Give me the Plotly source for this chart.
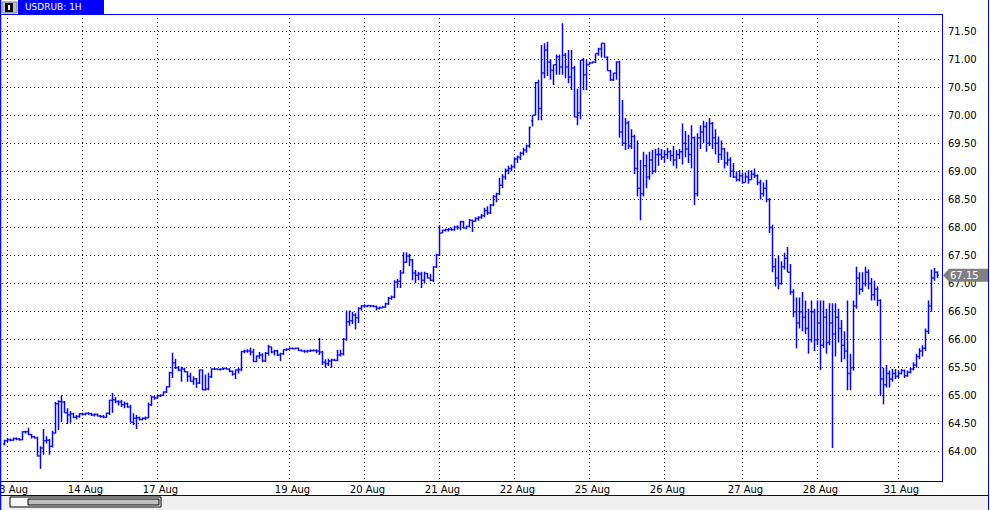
import plotly.graph_objects as go

# ---------------- data (USDRUB, 1H bars) ----------------
OPEN = [
    64.14,64.20,64.22,64.21,64.24,64.23,64.22,64.36,64.36,64.31,
    64.27,64.25,63.93,64.07,64.20,64.21,64.10,64.34,64.86,64.90,
    64.89,64.70,64.66,64.68,64.62,64.63,64.68,64.67,64.69,64.68,
    64.66,64.67,64.64,64.63,64.62,64.69,64.92,64.93,64.90,64.89,
    64.84,64.86,64.80,64.53,64.60,64.61,64.58,64.60,64.61,64.84,
    64.98,64.96,65.00,65.01,65.07,65.16,65.41,65.59,65.50,65.46,
    65.48,65.43,65.35,65.26,65.30,65.23,65.46,65.11,65.12,65.34,
    65.48,65.48,65.47,65.48,65.49,65.48,65.44,65.39,65.46,65.47,
    65.79,65.80,65.80,65.78,65.61,65.71,65.73,65.62,65.76,65.87,
    65.78,65.80,65.73,65.75,65.82,65.83,65.85,65.84,65.85,65.81,
    65.80,65.79,65.80,65.81,65.81,65.80,65.78,65.60,65.57,65.62,
    65.64,65.63,65.73,65.75,66.01,66.32,66.34,66.44,66.39,66.56,
    66.60,66.60,66.61,66.60,66.59,66.56,66.57,66.58,66.64,66.74,
    66.76,67.03,67.04,67.19,67.38,67.49,67.42,67.19,67.15,67.17,
    67.06,67.18,67.10,67.06,67.30,67.51,67.90,67.95,67.96,67.97,
    67.96,68.01,68.00,68.10,67.99,68.02,68.13,68.11,68.16,68.18,
    68.21,68.30,68.26,68.40,68.55,68.60,68.75,68.90,69.02,69.05,
    69.08,69.22,69.25,69.32,69.38,69.45,69.90,70.00,70.58,70.12,
    70.75,71.16,70.95,70.80,70.90,71.04,70.86,71.07,70.86,70.68,
    70.84,69.97,70.04,70.98,70.72,70.90,70.93,70.95,71.10,71.18,
    71.28,71.03,70.79,70.63,70.75,70.95,69.70,69.50,69.86,69.45,
    69.62,69.05,68.70,68.60,69.10,68.90,69.20,69.00,69.30,69.30,
    69.25,69.30,69.35,69.28,69.20,69.30,69.35,69.50,69.40,69.30,
    69.60,68.60,69.60,69.70,69.80,69.50,69.85,69.60,69.50,69.30,
    69.40,69.15,69.20,69.00,68.90,68.85,68.92,68.80,68.90,68.85,
    68.95,68.92,68.80,68.60,68.70,68.50,68.00,67.30,67.10,67.00,
    67.30,67.45,67.20,66.85,66.50,66.30,66.50,66.40,66.20,66.00,
    66.50,66.00,66.30,65.90,66.40,65.95,66.30,66.10,66.40,66.20,
    65.90,65.80,65.40,65.50,66.60,67.10,66.90,67.00,67.20,67.00,
    66.80,66.90,66.70,65.30,65.20,65.40,65.30,65.40,65.35,65.40,
    65.45,65.36,65.42,65.48,65.55,65.70,65.80,65.85,66.15,66.60,67.10,67.20,
]
HIGH = [
    64.22,64.25,64.24,64.26,64.26,64.25,64.37,64.38,64.43,64.32,
    64.29,64.27,64.10,64.41,64.28,64.23,64.38,64.89,64.92,65.01,
    64.91,64.78,64.73,64.70,64.66,64.69,64.70,64.70,64.71,64.70,
    64.69,64.68,64.66,64.66,64.70,64.93,65.05,64.98,64.92,64.93,
    64.90,64.88,64.84,64.69,64.66,64.63,64.62,64.63,64.88,65.00,
    65.00,65.02,65.03,65.08,65.17,65.43,65.77,65.66,65.53,65.52,
    65.50,65.44,65.41,65.35,65.32,65.47,65.47,65.38,65.41,65.49,
    65.50,65.49,65.49,65.50,65.50,65.49,65.45,65.47,65.50,65.80,
    65.82,65.83,65.86,65.84,65.72,65.78,65.76,65.78,65.91,65.88,
    65.82,65.82,65.77,65.83,65.85,65.86,65.86,65.86,65.86,65.83,
    65.82,65.82,65.83,65.83,65.83,66.03,65.80,65.65,65.66,65.66,
    65.66,65.82,65.82,66.03,66.52,66.52,66.50,66.47,66.58,66.62,
    66.63,66.62,66.62,66.62,66.61,66.59,66.60,66.66,66.76,66.79,
    67.06,67.08,67.24,67.56,67.56,67.53,67.44,67.24,67.21,67.21,
    67.21,67.19,67.17,67.31,67.53,68.04,67.96,67.98,67.99,68.00,
    68.03,68.04,68.12,68.12,68.03,68.15,68.14,68.18,68.20,68.24,
    68.35,68.38,68.42,68.58,68.62,68.88,68.95,69.05,69.10,69.12,
    69.25,69.28,69.35,69.42,69.48,69.80,70.00,70.59,70.63,71.25,
    71.28,71.31,71.00,70.90,71.08,71.08,71.64,71.11,71.16,71.16,
    70.88,70.47,70.98,71.02,70.98,70.94,70.96,71.10,71.20,71.28,
    71.28,71.05,70.81,70.75,70.96,70.97,70.27,69.95,69.90,69.75,
    69.65,69.55,69.20,69.35,69.30,69.35,69.38,69.40,69.42,69.40,
    69.38,69.42,69.38,69.45,69.38,69.40,69.85,69.72,69.65,69.82,
    69.62,69.68,69.82,69.90,69.88,69.95,69.88,69.75,69.62,69.55,
    69.42,69.35,69.25,69.15,69.00,69.02,68.98,68.98,69.02,69.02,
    69.05,68.95,68.85,68.80,68.85,68.52,68.05,67.45,67.50,67.40,
    67.55,67.65,67.35,66.90,66.75,66.75,66.85,66.70,66.55,66.70,
    66.55,66.70,66.70,66.70,66.55,66.65,66.65,66.65,66.55,66.35,
    66.15,66.70,65.75,66.70,67.30,67.20,67.20,67.30,67.25,67.10,
    67.05,66.95,66.72,65.50,65.55,65.45,65.48,65.48,65.45,65.48,
    65.47,65.45,65.50,65.60,65.75,65.85,65.90,66.20,66.70,67.25,67.28,67.22,
]
LOW = [
    64.12,64.18,64.19,64.20,64.21,64.20,64.21,64.33,64.30,64.24,
    64.24,63.92,63.70,63.95,64.15,63.95,64.08,64.33,64.39,64.53,
    64.70,64.50,64.52,64.60,64.58,64.61,64.65,64.65,64.66,64.64,
    64.63,64.63,64.61,64.60,64.61,64.66,64.70,64.87,64.83,64.80,
    64.78,64.79,64.53,64.48,64.41,64.56,64.56,64.57,64.60,64.82,
    64.93,64.95,64.98,65.00,65.05,65.15,65.32,65.48,65.44,65.25,
    65.42,65.25,65.25,65.20,65.14,65.21,65.10,65.09,65.10,65.32,
    65.46,65.46,65.45,65.46,65.47,65.42,65.36,65.30,65.40,65.44,
    65.76,65.77,65.72,65.60,65.60,65.66,65.60,65.60,65.72,65.76,
    65.72,65.71,65.62,65.73,65.80,65.82,65.83,65.83,65.80,65.79,
    65.77,65.77,65.78,65.79,65.76,65.73,65.55,65.50,65.53,65.50,
    65.62,65.62,65.70,65.72,65.98,66.25,66.28,66.18,66.30,66.52,
    66.57,66.58,66.58,66.58,66.52,66.54,66.56,66.57,66.62,66.71,
    66.74,66.92,66.92,67.18,67.37,67.31,67.06,67.01,67.06,66.92,
    67.00,67.09,67.04,67.03,67.28,67.49,67.90,67.93,67.93,67.94,
    67.94,67.96,67.95,67.98,67.97,68.00,67.92,68.10,68.12,68.15,
    68.18,68.22,68.24,68.38,68.45,68.58,68.70,68.85,68.95,69.00,
    69.05,69.15,69.20,69.28,69.33,69.42,69.80,70.00,69.91,69.91,
    70.66,70.70,70.63,70.54,70.72,70.72,70.72,70.66,70.57,70.45,
    69.97,69.82,69.93,70.45,70.45,70.90,70.92,70.93,71.06,71.03,
    71.03,70.79,70.61,70.61,70.63,69.60,69.45,69.38,69.40,69.40,
    68.95,68.55,68.13,68.55,68.70,68.85,68.95,68.98,69.10,69.20,
    69.15,69.22,69.18,69.10,69.05,69.22,69.12,69.25,69.15,69.05,
    68.40,68.55,69.40,69.50,69.35,69.45,69.40,69.30,69.15,69.20,
    69.05,69.10,68.90,68.88,68.82,68.82,68.78,68.80,68.78,68.85,
    68.88,68.75,68.50,68.55,68.45,67.90,67.20,66.95,66.90,66.98,
    67.25,67.20,66.80,66.40,65.85,66.20,66.15,66.10,65.75,65.95,
    65.80,65.90,65.46,65.85,65.75,65.90,64.07,65.70,65.95,65.60,
    65.65,65.10,65.10,65.45,66.55,66.80,66.85,66.95,66.90,66.70,
    66.70,66.60,65.00,64.85,65.15,65.15,65.25,65.30,65.32,65.38,
    65.32,65.34,65.40,65.45,65.50,65.65,65.70,65.80,66.10,66.50,67.05,67.10,
]
CLOSE = [
    64.20,64.22,64.21,64.24,64.23,64.22,64.36,64.36,64.31,64.27,
    64.25,63.93,64.07,64.20,64.21,64.10,64.34,64.86,64.90,64.89,
    64.70,64.66,64.68,64.62,64.63,64.68,64.67,64.69,64.68,64.66,
    64.67,64.64,64.63,64.62,64.69,64.92,64.93,64.90,64.89,64.84,
    64.86,64.80,64.53,64.60,64.61,64.58,64.60,64.61,64.84,64.98,
    64.96,65.00,65.01,65.07,65.16,65.41,65.59,65.50,65.46,65.48,
    65.43,65.35,65.26,65.30,65.23,65.46,65.11,65.12,65.34,65.48,
    65.48,65.47,65.48,65.49,65.48,65.44,65.39,65.46,65.47,65.79,
    65.80,65.80,65.78,65.61,65.71,65.73,65.62,65.76,65.87,65.78,
    65.80,65.73,65.75,65.82,65.83,65.85,65.84,65.85,65.81,65.80,
    65.79,65.80,65.81,65.81,65.80,65.78,65.60,65.57,65.62,65.64,
    65.63,65.73,65.75,66.01,66.32,66.34,66.44,66.39,66.56,66.60,
    66.60,66.61,66.60,66.59,66.56,66.57,66.58,66.64,66.74,66.76,
    67.03,67.04,67.19,67.38,67.49,67.42,67.19,67.15,67.17,67.06,
    67.18,67.10,67.06,67.30,67.51,67.90,67.95,67.96,67.97,67.96,
    68.01,68.00,68.10,67.99,68.02,68.13,68.11,68.16,68.18,68.21,
    68.30,68.26,68.40,68.55,68.60,68.75,68.90,69.02,69.05,69.08,
    69.22,69.25,69.32,69.38,69.45,69.78,70.00,70.58,70.12,70.75,
    71.16,70.95,70.80,70.90,71.04,70.86,71.07,70.86,70.68,70.84,
    69.97,70.04,70.98,70.72,70.90,70.93,70.95,71.10,71.18,71.28,
    71.03,70.79,70.63,70.75,70.95,69.70,69.50,69.86,69.45,69.62,
    69.05,68.70,68.60,69.10,68.90,69.20,69.00,69.30,69.30,69.25,
    69.30,69.35,69.28,69.20,69.30,69.35,69.50,69.40,69.30,69.60,
    68.60,69.60,69.70,69.80,69.50,69.85,69.60,69.50,69.30,69.40,
    69.15,69.20,69.00,68.90,68.85,68.92,68.80,68.90,68.85,68.95,
    68.92,68.80,68.60,68.70,68.50,68.00,67.30,67.10,67.00,67.30,
    67.45,67.20,66.85,66.50,66.30,66.50,66.40,66.20,66.00,66.50,
    66.00,66.30,65.90,66.40,65.95,66.30,66.10,66.40,66.20,65.90,
    65.80,65.40,65.50,66.60,67.10,66.90,67.00,67.20,67.00,66.80,
    66.90,66.70,65.30,65.20,65.40,65.30,65.40,65.35,65.40,65.45,
    65.36,65.42,65.48,65.55,65.70,65.80,65.85,66.15,66.60,67.10,67.20,67.15,
]

TICK_BARS = [1, 26, 51, 95, 120, 145, 170, 195, 220, 246, 271, 298]
TICK_LABELS = ["13 Aug", "14 Aug", "17 Aug", "19 Aug", "20 Aug", "21 Aug",
               "22 Aug", "25 Aug", "26 Aug", "27 Aug", "28 Aug", "31 Aug"]
PRICE_TICKS = [64.0, 64.5, 65.0, 65.5, 66.0, 66.5, 67.0, 67.5,
               68.0, 68.5, 69.0, 69.5, 70.0, 70.5, 71.0, 71.5]
SYMBOL = "USDRUB: 1H"

# ---------------- layout geometry (pixels) ----------------
W, H = 990, 510
PL, PR, PT, PB = 2, 942, 14, 481          # plot area
PW, PH = PR - PL, PB - PT
BAR_PX = 3.0
X0 = -5.0 / 6.0
X1 = X0 + PW / BAR_PX
Y0, Y1 = 63.483, 71.803

def px(p):
    return (p - PL) / PW

def py(q):
    return (PB - q) / PH

n = min(len(OPEN), len(HIGH), len(LOW), len(CLOSE))
xs = list(range(n))

BLUE = "#0000ff"
NAVY = "#000080"
FONT = "DejaVu Sans"

fig = go.Figure(go.Ohlc(
    x=xs, open=OPEN[:n], high=HIGH[:n], low=LOW[:n], close=CLOSE[:n],
    increasing=dict(line=dict(color=BLUE, width=1.5)),
    decreasing=dict(line=dict(color=BLUE, width=1.5)),
    tickwidth=0.45, hoverinfo="skip", showlegend=False,
))

grid_dash = "1px,3px"
fig.update_xaxes(
    range=[X0, X1], tickmode="array", tickvals=TICK_BARS, ticktext=TICK_LABELS,
    showgrid=True, gridcolor="#000000", gridwidth=1, griddash=grid_dash,
    zeroline=False, showline=False, ticks="", ticklabelstandoff=1,
    ticklabelshift=3, ticklabeloverflow="allow", automargin=False,
    tickfont=dict(family=FONT, size=10, color="#000000"),
    rangeslider=dict(visible=False), fixedrange=True,
)
fig.update_yaxes(
    range=[Y0, Y1], side="right", tickmode="array", tickvals=PRICE_TICKS,
    ticktext=[f"{v:.2f}" for v in PRICE_TICKS],
    showgrid=True, gridcolor="#000000", gridwidth=1, griddash=grid_dash,
    zeroline=False, showline=False, ticks="", ticklabelstandoff=5,
    ticklabeloverflow="allow", automargin=False,
    tickfont=dict(family=FONT, size=10, color="#000000"), fixedrange=True,
)

shapes = []
def line(x0, y0, x1, y1, color, width=1):
    shapes.append(dict(type="line", xref="paper", yref="paper",
                       x0=px(x0), y0=py(y0), x1=px(x1), y1=py(y1),
                       line=dict(color=color, width=width), layer="above"))

def rect(x0, y0, x1, y1, fill, lc=None, lw=0):
    shapes.append(dict(type="rect", xref="paper", yref="paper",
                       x0=px(x0), y0=py(y0), x1=px(x1), y1=py(y1),
                       fillcolor=fill, line=dict(color=lc or fill, width=lw),
                       layer="above"))

# bottom gray strip + scroll bar
rect(1, 496, 990, 510, "#f0f0f0")
rect(10, 497, 161, 507, "#f8f8f8", "#000000", 1)
rect(28, 499, 159, 505, "#c0c0c0", "#000000", 1)
# frames
line(0, 14.5, PR, 14.5, BLUE, 1)
line(PR + 0.5, 14, PR + 0.5, PB, BLUE, 1)
line(0, PB + 0.5, PR + 1, PB + 0.5, NAVY, 1)
line(0, 495.5, 988, 495.5, NAVY, 1)
line(0.5, 0, 0.5, 510, BLUE, 1.5)
line(988.5, 0, 988.5, 510, BLUE, 1)
# title tab
rect(18, 0, 104, 14, BLUE)
rect(2, 2, 17, 13, "#c0c0c0", "#808080", 1)
rect(5, 3, 13, 12, "#000000")
rect(8, 5, 10, 10, "#ffffff")

# last price label
last = CLOSE[n - 1]
ly = (last - Y0) / (Y1 - Y0)
hh = 6.5 / PH
shapes.append(dict(
    type="path", xref="paper", yref="paper", layer="above",
    path=(f"M {px(943)},{ly} L {px(949)},{ly + hh} L {px(988)},{ly + hh} "
          f"L {px(988)},{ly - hh} L {px(949)},{ly - hh} Z"),
    fillcolor="#808080", line=dict(color="#808080", width=0),
))

annotations = [
    dict(text=SYMBOL, xref="paper", yref="paper", x=px(23), y=py(7),
         xanchor="left", yanchor="middle", showarrow=False,
         font=dict(family=FONT, size=9, color="#ffffff")),
    dict(text=f"{last:.2f}", xref="paper", yref="paper", x=px(948), y=ly,
         xanchor="left", yanchor="middle", showarrow=False,
         font=dict(family=FONT, size=10, color="#ffffff")),
]

fig.update_layout(
    template="none",
    width=W, height=H, autosize=False,
    margin=dict(l=PL, r=W - PR, t=PT, b=H - PB, pad=0),
    paper_bgcolor="#ffffff", plot_bgcolor="#ffffff",
    shapes=shapes, annotations=annotations, showlegend=False,
    dragmode=False, hovermode=False,
)

fig.write_html(
    "out.html",
    config={"displayModeBar": False, "staticPlot": True},
    post_script="document.body.style.margin='0';document.body.style.padding='0';",
)
